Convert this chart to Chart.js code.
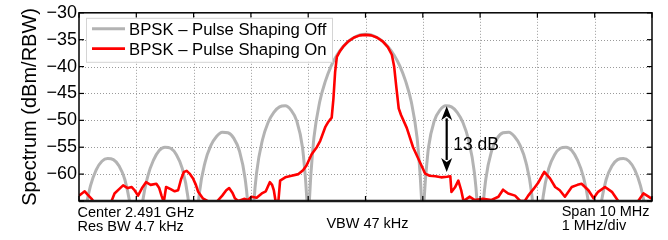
<!DOCTYPE html>
<html>
<head>
<meta charset="utf-8">
<script src="https://cdn.jsdelivr.net/npm/chart.js@4/dist/chart.umd.min.js"></script>
<style>
html,body{margin:0;padding:0;background:#fff;}
canvas{display:block;}
</style>
</head>
<body>
<canvas id="c" width="668" height="240"></canvas>
<script>
// ---- data ----
const xTicks = [-5,-4,-3,-2,-1,0,1,2,3,4,5];          // MHz offset from centre (1 MHz/div)
const yTicks = [-65,-60,-55,-50,-45,-40,-35,-30];       // dBm/RBW

const grayFreq = [-5.0,-4.95,-4.9,-4.8,-4.7,-4.6,-4.5,-4.4,-4.3,-4.2,-4.1,-4.05,
  -4.0,-3.95,-3.9,-3.8,-3.7,-3.6,-3.5,-3.4,-3.3,-3.2,-3.1,-3.05,
  -3.0,-2.95,-2.9,-2.8,-2.7,-2.6,-2.5,-2.4,-2.3,-2.2,-2.1,-2.05,
  -2.0,-1.95,-1.9,-1.8,-1.7,-1.6,-1.5,-1.4,-1.3,-1.2,-1.1,-1.05,
  -1.0,-0.95,-0.9,-0.8,-0.7,-0.6,-0.5,-0.4,-0.3,-0.2,-0.1,
  0.0,0.1,0.2,0.3,0.4,0.5,0.6,0.7,0.8,0.9,0.95,
  1.0,1.05,1.1,1.2,1.3,1.4,1.5,1.6,1.7,1.8,1.9,1.95,
  2.0,2.05,2.1,2.2,2.3,2.4,2.5,2.6,2.7,2.8,2.9,2.95,
  3.0,3.05,3.1,3.2,3.3,3.4,3.5,3.6,3.7,3.8,3.9,3.95,
  4.0,4.05,4.1,4.2,4.3,4.4,4.5,4.6,4.7,4.8,4.9,4.95,5.0];
const grayLevel = [-80,-74,-67.9,-62.2,-59.2,-57.6,-57.1,-57.3,-58.5,-61.0,-66.4,-72,
  -80,-72,-66.0,-60.4,-57.4,-55.6,-55.0,-55.2,-56.4,-58.9,-64.2,-70,
  -80,-70,-63.6,-57.8,-54.7,-53.0,-52.2,-52.3,-53.3,-55.7,-60.9,-66.5,
  -80,-65.9,-59.7,-53.7,-50.4,-48.5,-47.5,-47.3,-48.1,-50.1,-55.0,-60.5,
  -67,-59.6,-53.2,-46.6,-42.7,-39.9,-37.9,-36.4,-35.3,-34.6,-34.1,
  -34.0,-34.1,-34.6,-35.3,-36.4,-37.9,-39.9,-42.7,-46.6,-53.2,-59.6,
  -67,-60.5,-55.0,-50.1,-48.1,-47.3,-47.5,-48.5,-50.4,-53.7,-59.7,-65.9,
  -80,-66.5,-60.9,-55.7,-53.3,-52.3,-52.2,-53.0,-54.7,-57.8,-63.6,-70,
  -80,-70,-64.2,-58.9,-56.4,-55.2,-55.0,-55.6,-57.4,-60.4,-66.0,-72,
  -80,-72,-66.4,-61.0,-58.5,-57.3,-57.1,-57.6,-59.2,-62.2,-67.9,-74,-80];

const redFreq = [-5.00,-4.95,-4.90,-4.85,-4.78,-4.72,-4.60,-4.45,-4.38,-4.30,-4.23,-4.15,-4.08,-4.03,
  -3.97,-3.90,-3.83,-3.75,-3.65,-3.60,-3.56,-3.52,-3.48,-3.40,-3.33,-3.27,-3.22,-3.17,-3.12,-3.07,
  -3.01,-2.96,-2.92,-2.84,-2.72,-2.60,-2.50,-2.43,-2.38,-2.32,-2.28,-2.22,-2.12,-2.05,-1.99,-1.90,
  -1.81,-1.74,-1.67,-1.63,-1.60,-1.57,-1.52,-1.49,-1.40,-1.29,-1.17,-1.09,-1.03,-0.94,-0.85,-0.79,
  -0.70,-0.65,-0.59,-0.56,-0.53,-0.50,-0.45,-0.39,-0.30,-0.20,-0.10,0.00,0.10,0.20,0.30,0.39,0.46,
  0.50,0.54,0.58,0.62,0.72,0.83,0.95,1.04,1.12,1.22,1.32,1.42,1.48,1.50,1.56,1.62,1.67,1.71,1.82,
  1.90,2.05,2.20,2.32,2.40,2.49,2.61,2.70,2.78,2.84,2.93,3.02,3.12,3.22,3.31,3.39,3.48,3.60,3.70,
  3.77,3.84,3.89,3.98,4.06,4.18,4.30,4.41,4.55,4.70,4.76,4.85,4.94,5.00];
const redLevel = [-64.0,-63.6,-63.2,-63.8,-64.6,-65.5,-66,-65.5,-63.6,-62.8,-62.1,-62.6,-62.4,-63.0,
  -64.0,-62.6,-61.5,-62.0,-61.8,-62.6,-64.0,-65.2,-62.4,-62.8,-63.2,-63.0,-61.0,-59.6,-59.4,-59.9,
  -60.8,-62.0,-63.3,-64.5,-65.2,-65.2,-64.0,-63.0,-62.6,-63.5,-64.5,-65.0,-64.6,-64.8,-64.2,-64.4,
  -63.6,-63.2,-61.5,-62.0,-63.0,-65.0,-65.0,-61.2,-60.6,-60.3,-60.0,-59.3,-58.4,-56.3,-55.0,-53.8,
  -51.2,-50.3,-49.5,-46,-41,-38.2,-37.2,-36.3,-35.3,-34.6,-34.2,-34.1,-34.2,-34.6,-35.3,-36.4,-37.8,
  -40,-44,-47.8,-49.0,-51.4,-55.0,-57.8,-59.9,-60.3,-60.4,-60.6,-60.5,-60.4,-63.3,-62.5,-61.2,-63.0,-65.0,-64.2,
  -64.8,-64.6,-64.8,-64.2,-62.9,-63.6,-64.0,-65.0,-65.0,-64.0,-62.8,-61.5,-59.6,-60.8,-62.4,-63.0,-64.2,-62.4,-62.0,
  -61.8,-62.5,-63.0,-64.5,-63.3,-62.4,-63.3,-65.0,-65.5,-65.2,-65.0,-63.6,-64.2,-64.6];

const seriesNames = ['BPSK \u2013 Pulse Shaping Off', 'BPSK \u2013 Pulse Shaping On'];
const seriesColors = ['#b3b3b3', '#ff0000'];
const bottomLeft = ['Center 2.491 GHz', 'Res BW 4.7 kHz'];
const bottomMid = 'VBW 47 kHz';
const bottomRight = ['Span 10 MHz', '1 MHz/div'];
const annotation = {x: 1.417, top: -47.4, bottom: -59.6, text: '13 dB', textX: 1.53, textY: -54.7};

const FONT = "'Liberation Sans', Arial, Helvetica, sans-serif";

const grayPts = grayFreq.map((f,i)=>({x:f, y:grayLevel[i]}));
const redPts = redFreq.map((f,i)=>({x:f, y:redLevel[i]}));

const decor = {
  id: 'decor',
  beforeDatasetsDraw(chart) {
    const {ctx, chartArea: a, scales: {x, y}} = chart;
    ctx.save();
    ctx.strokeStyle = '#9a9a9a';
    ctx.lineWidth = 1;
    ctx.setLineDash([1, 2]);
    xTicks.forEach(v => {
      if (v === xTicks[0] || v === xTicks[xTicks.length-1]) return;
      const px = Math.round(x.getPixelForValue(v)) + 0.5;
      ctx.beginPath(); ctx.moveTo(px, a.top); ctx.lineTo(px, a.bottom); ctx.stroke();
    });
    yTicks.forEach(v => {
      if (v === yTicks[0] || v === yTicks[yTicks.length-1]) return;
      const py = Math.round(y.getPixelForValue(v)) + 0.5;
      ctx.beginPath(); ctx.moveTo(a.left, py); ctx.lineTo(a.right, py); ctx.stroke();
    });
    ctx.restore();
  },
  afterDatasetsDraw(chart) {
    const {ctx, chartArea: a, scales: {x, y}} = chart;
    ctx.save();
    // axes box
    ctx.strokeStyle = '#000';
    ctx.lineWidth = 1.5;
    ctx.strokeRect(a.left, a.top, a.right - a.left, a.bottom - a.top);
    ctx.lineWidth = 2.5;
    ctx.strokeStyle = '#1a1a1a';
    ctx.beginPath(); ctx.moveTo(a.left, a.bottom); ctx.lineTo(a.right, a.bottom); ctx.stroke();
    // inside tick marks
    ctx.lineWidth = 1.2;
    ctx.strokeStyle = '#000';
    const tl = 5;
    xTicks.forEach(v => {
      const px = x.getPixelForValue(v);
      ctx.beginPath(); ctx.moveTo(px, a.top); ctx.lineTo(px, a.top + tl); ctx.stroke();
      ctx.beginPath(); ctx.moveTo(px, a.bottom); ctx.lineTo(px, a.bottom - tl); ctx.stroke();
    });
    yTicks.forEach(v => {
      const py = y.getPixelForValue(v);
      ctx.beginPath(); ctx.moveTo(a.left, py); ctx.lineTo(a.left + tl, py); ctx.stroke();
      ctx.beginPath(); ctx.moveTo(a.right, py); ctx.lineTo(a.right - tl, py); ctx.stroke();
    });

    // legend box
    const lx = a.left + 7, ly = a.top + 5, lw = 246, lh = 44;
    ctx.fillStyle = '#fff';
    ctx.fillRect(lx, ly, lw, lh);
    ctx.strokeStyle = '#d4d4d4';
    ctx.lineWidth = 1;
    ctx.strokeRect(lx + 0.5, ly + 0.5, lw, lh);
    const rows = [ly + 12, ly + 31.8];
    const widths = [3, 2.6];
    ctx.font = '16.7px ' + FONT;
    ctx.textBaseline = 'middle';
    ctx.textAlign = 'left';
    seriesNames.forEach((n, i) => {
      ctx.strokeStyle = seriesColors[i];
      ctx.lineWidth = widths[i];
      ctx.beginPath(); ctx.moveTo(lx + 6, rows[i] - 1); ctx.lineTo(lx + 39, rows[i] - 1); ctx.stroke();
      ctx.fillStyle = '#000';
      ctx.fillText(n, lx + 43, rows[i] + 1);
    });

    // 13 dB double arrow
    const ax = x.getPixelForValue(annotation.x);
    const at = y.getPixelForValue(annotation.top);
    const ab = y.getPixelForValue(annotation.bottom);
    const hl = 14, hw = 5.5;
    ctx.strokeStyle = '#000'; ctx.fillStyle = '#000';
    ctx.lineWidth = 2.2;
    ctx.beginPath(); ctx.moveTo(ax, at + hl - 2); ctx.lineTo(ax, ab - hl + 2); ctx.stroke();
    ctx.beginPath(); ctx.moveTo(ax, at); ctx.lineTo(ax - hw, at + hl); ctx.lineTo(ax, at + hl - 4); ctx.lineTo(ax + hw, at + hl); ctx.closePath(); ctx.fill();
    ctx.beginPath(); ctx.moveTo(ax, ab); ctx.lineTo(ax - hw, ab - hl); ctx.lineTo(ax, ab - hl + 4); ctx.lineTo(ax + hw, ab - hl); ctx.closePath(); ctx.fill();
    ctx.font = '17.5px ' + FONT;
    ctx.textAlign = 'left'; ctx.textBaseline = 'middle';
    ctx.fillText(annotation.text, x.getPixelForValue(annotation.textX), y.getPixelForValue(annotation.textY));

    // analyser text under the plot
    ctx.font = '14.5px ' + FONT;
    ctx.textBaseline = 'alphabetic';
    ctx.textAlign = 'left';
    ctx.fillText(bottomLeft[0], a.left - 1.5, a.bottom + 15.7);
    ctx.fillText(bottomLeft[1], a.left - 1.5, a.bottom + 29.7);
    ctx.textAlign = 'center';
    ctx.fillText(bottomMid, (a.left + a.right) / 2 + 2, a.bottom + 27.3);
    ctx.textAlign = 'left';
    ctx.fillText(bottomRight[0], a.right - 90.3, a.bottom + 14.5);
    ctx.fillText(bottomRight[1], a.right - 90.3, a.bottom + 29);
    ctx.restore();
  }
};

new Chart(document.getElementById('c'), {
  type: 'line',
  data: {
    datasets: [
      { label: seriesNames[1], data: redPts, borderColor: seriesColors[1], borderWidth: 2.6,
        pointRadius: 0, tension: 0, clip: 0, order: 0, borderJoinStyle: 'round' },
      { label: seriesNames[0], data: grayPts, borderColor: seriesColors[0], borderWidth: 3,
        pointRadius: 0, cubicInterpolationMode: 'monotone', clip: 0, order: 1 }
    ]
  },
  options: {
    responsive: false,
    devicePixelRatio: 1,
    animation: false,
    events: [],
    layout: { padding: { left: 0, right: 16, top: 10, bottom: 0 } },
    plugins: { legend: { display: false }, tooltip: { enabled: false } },
    scales: {
      x: {
        type: 'linear', min: -5, max: 5,
        afterBuildTicks: s => { s.ticks = xTicks.map(v => ({value: v})); },
        ticks: { display: false },
        grid: { display: false, drawTicks: false },
        border: { display: false },
        afterFit: s => { s.height = 39; }
      },
      y: {
        type: 'linear', min: -65, max: -30,
        afterBuildTicks: s => { s.ticks = yTicks.map(v => ({value: v})); },
        ticks: {
          color: '#000', padding: 2,
          font: { family: FONT, size: 18 },
          callback: v => v === -65 ? '' : String(v).replace('-', '\u2212')
        },
        grid: { display: false, drawTicks: false },
        border: { display: false },
        title: { display: true, text: 'Spectrum (dBm/RBW)', color: '#000',
                 font: { family: FONT, size: 20 }, padding: { top: 18, bottom: 0 } },
        afterFit: s => { s.width = 79; }
      }
    }
  },
  plugins: [decor]
});
</script>
</body>
</html>
